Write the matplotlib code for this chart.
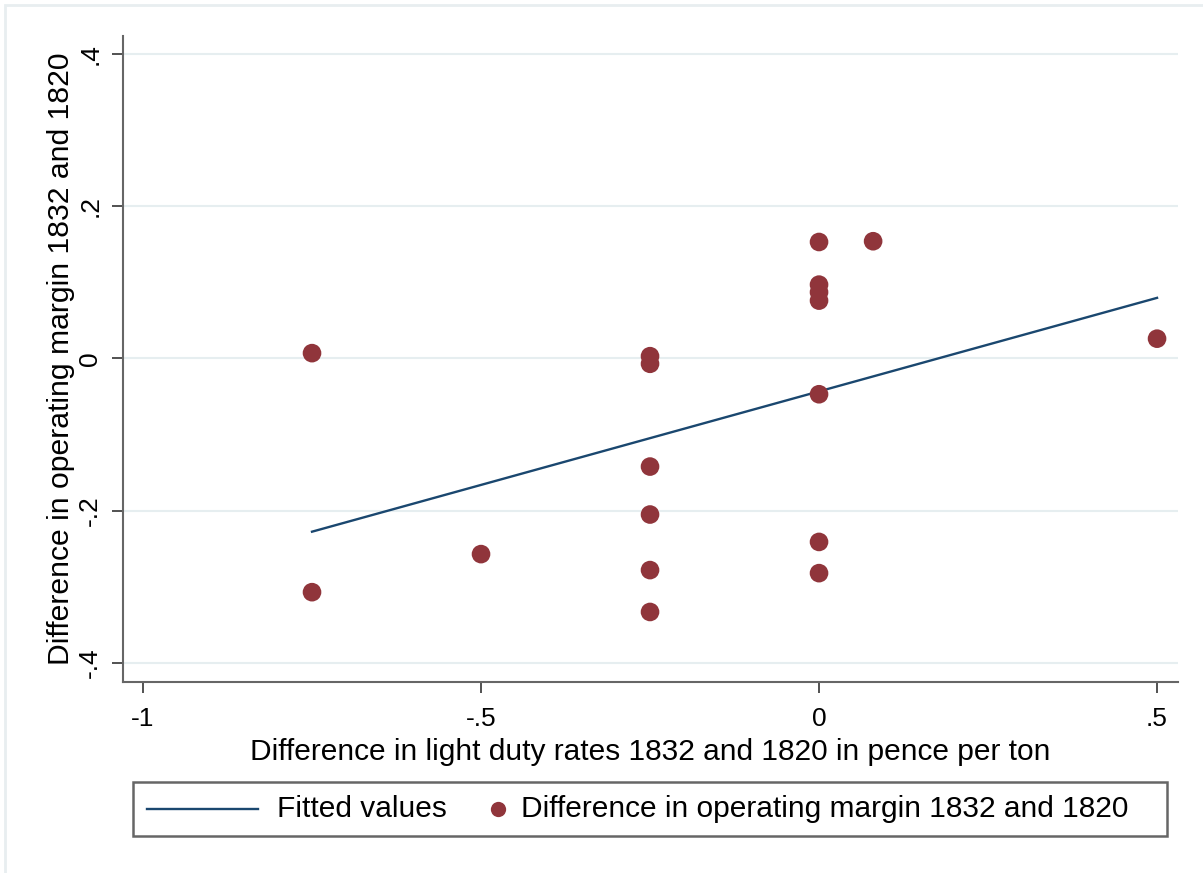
import matplotlib
matplotlib.use("Agg")
import matplotlib.pyplot as plt
from matplotlib.patches import Rectangle
from matplotlib.lines import Line2D
import numpy as np

plt.rcParams['font.family'] = ['Liberation Sans', 'DejaVu Sans']

# data
duty_diff = [-0.75, -0.75, -0.5,
             -0.25, -0.25, -0.25, -0.25, -0.25, -0.25,
             0, 0, 0, 0, 0, 0, 0,
             0.08, 0.5]
margin_diff = [0.007, -0.307, -0.257,
               0.003, -0.007, -0.142, -0.205, -0.278, -0.333,
               0.153, 0.097, 0.087, 0.076, -0.047, -0.241, -0.282,
               0.154, 0.026]

x_ticks = [-1, -0.5, 0, 0.5]
x_tick_labels = ['-1', '-.5', '0', '.5']
y_ticks = [-0.4, -0.2, 0, 0.2, 0.4]
y_tick_labels = ['-.4', '-.2', '0', '.2', '.4']

navy = '#1a476f'
maroon = '#90353b'
grid_col = '#e6eef0'
axis_col = '#666666'

x = np.array(duty_diff)
y = np.array(margin_diff)
slope, intercept = np.polyfit(x, y, 1)
xfit = np.array([x.min(), x.max()])
yfit = intercept + slope * xfit

W, H = 1203, 873
fig = plt.figure(figsize=(W / 100, H / 100), dpi=100)
ax = fig.add_axes([123 / W, 1 - 682 / H, (1178 - 123) / W, (682 - 36) / H])

ax.plot(xfit, yfit, color=navy, lw=1.7, zorder=3)
ax.scatter(x, y, s=180, color=maroon, edgecolors='none', zorder=4)

ax.set_xlim(-1.0296, 0.531)
ax.set_ylim(-0.425, 0.4236)
ax.set_xticks(x_ticks)
ax.set_xticklabels(x_tick_labels, fontsize=19)
ax.set_yticks(y_ticks)
ax.set_yticklabels(y_tick_labels, fontsize=19, rotation=90, va='center')
ax.grid(True, axis='y', color=grid_col, lw=1.5)
ax.set_axisbelow(True)

for s in ['top', 'right']:
    ax.spines[s].set_visible(False)
for s in ['left', 'bottom']:
    ax.spines[s].set_color(axis_col)
    ax.spines[s].set_linewidth(1.5)
ax.tick_params(length=8, width=1.2, color='#333333', pad=7)
ax.tick_params(axis='x', pad=10)

ax.set_xlabel('Difference in light duty rates 1832 and 1820 in pence per ton',
              fontsize=21.5, labelpad=5)
ax.set_ylabel('Difference in operating margin 1832 and 1820',
              fontsize=21.7, labelpad=2)

# outer frame
fig.patches.append(Rectangle((5 / W, -0.2), 1.2, 1.2 - 5 / H, transform=fig.transFigure,
                             fill=False, edgecolor='#e8eef0', lw=2))

# legend box, Stata style
fig.patches.append(Rectangle((133 / W, 1 - 836 / H), (1167 - 133) / W, 54 / H,
                             transform=fig.transFigure, fill=False,
                             edgecolor=axis_col, lw=1.8))
ly = 1 - 809 / H
fig.lines.append(Line2D([147 / W, 258 / W], [ly, ly], transform=fig.transFigure,
                        color=navy, lw=1.7))
fig.lines.append(Line2D([498 / W], [ly], transform=fig.transFigure, marker='o',
                        markersize=11, color=maroon, markeredgewidth=0))
fig.text(277 / W, ly, 'Fitted values', fontsize=21.5, va='center')
fig.text(521 / W, ly, 'Difference in operating margin 1832 and 1820',
         fontsize=21.5, va='center')

fig.savefig('out.png', dpi=100)
